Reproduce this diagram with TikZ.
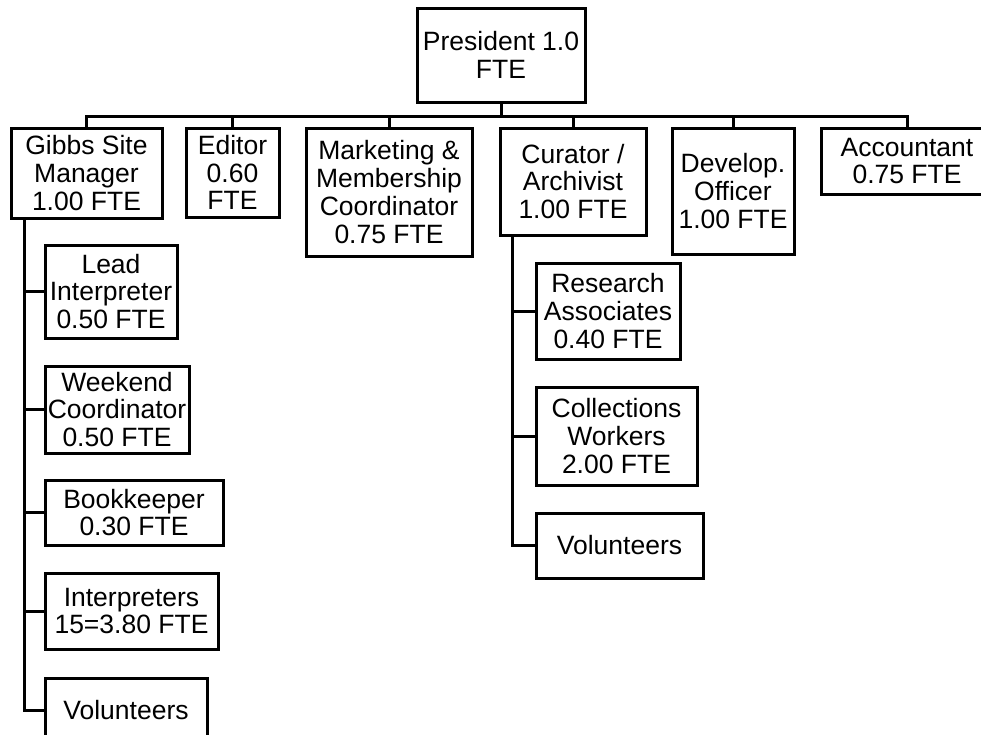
\documentclass[tikz,border=0pt]{standalone}
\usepackage{fontspec}
\setmainfont{Liberation Sans}
\begin{document}
\begin{tikzpicture}[x=1pt,y=-1pt,
  box/.style={draw,line width=3pt,inner sep=0pt,align=center,
    font=\fontsize{26.5}{27.8}\selectfont},
  conn/.style={line width=3pt}]
\useasboundingbox (0,0) rectangle (981,734);
\clip (0,0) rectangle (981,734);
\fill[white] (0,0) rectangle (981,734);
% top level
\node[box,minimum width=168pt,minimum height=94pt] (pres) at (501,55) {President 1.0\\FTE};
\node[box,minimum width=151pt,minimum height=90pt] (gibbs) at (86.5,173) {Gibbs Site\\Manager\\1.00 FTE};
\node[box,minimum width=93pt,minimum height=89pt] (editor) at (232.5,172.5) {Editor\\0.60\\FTE};
\node[box,minimum width=166pt,minimum height=128pt] (mkt) at (389,192) {Marketing \&\\Membership\\Coordinator\\0.75 FTE};
\node[box,minimum width=146pt,minimum height=107pt] (cur) at (573,181.5) {Curator /\\Archivist\\1.00 FTE};
\node[box,minimum width=122pt,minimum height=126pt] (dev) at (733,191) {Develop.\\Officer\\1.00 FTE};
\node[box,minimum width=172pt,minimum height=66pt] (acc) at (907,161) {Accountant\\0.75 FTE};
% Gibbs children
\node[box,minimum width=132pt,minimum height=93pt] (lead) at (111,291.5) {Lead\\Interpreter\\0.50 FTE};
\node[box,minimum width=144pt,minimum height=87pt] (wkd) at (117,409.5) {Weekend\\Coordinator\\0.50 FTE};
\node[box,minimum width=178pt,minimum height=65pt] (book) at (134,512.5) {Bookkeeper\\0.30 FTE};
\node[box,minimum width=173pt,minimum height=76pt] (interp) at (131.5,611) {Interpreters\\15=3.80 FTE};
\node[box,minimum width=162pt,minimum height=64pt] (vol1) at (126,710) {Volunteers};
% Curator children
\node[box,minimum width=144pt,minimum height=96pt] (res) at (608,311) {Research\\Associates\\0.40 FTE};
\node[box,minimum width=161pt,minimum height=98pt] (coll) at (616.5,436) {Collections\\Workers\\2.00 FTE};
\node[box,minimum width=167pt,minimum height=65pt] (vol2) at (619.5,545.5) {Volunteers};
% connectors
\foreach \c in {gibbs,editor,mkt,cur,dev,acc}
  \draw[conn] (pres.south) -- ++(0,13) -| (\c.north);
\foreach \c in {lead,wkd,book,interp,vol1}
  \draw[conn] ([xshift=15pt]gibbs.south west) |- (\c.west);
\foreach \c in {res,coll,vol2}
  \draw[conn] ([xshift=14pt]cur.south west) |- (\c.west);
\end{tikzpicture}
\end{document}
